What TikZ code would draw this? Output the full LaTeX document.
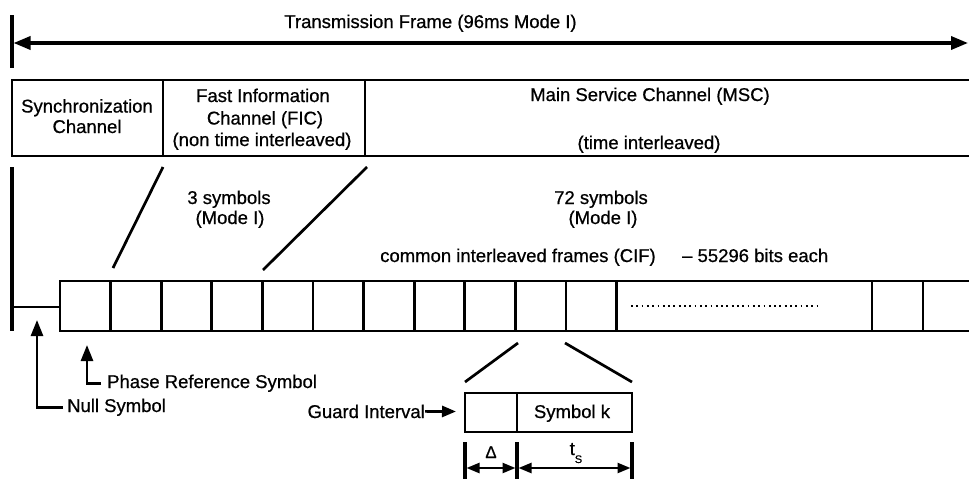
\documentclass[tikz,border=0pt]{standalone}
\usepackage{fontspec}
\setmainfont{Liberation Sans}[FakeBold=0.7]
\usetikzlibrary{arrows.meta}
\begin{document}
\begin{tikzpicture}[x=1pt,y=-1pt,
  lbl/.style={font=\fontsize{18.5}{21}\selectfont, inner sep=0pt, anchor=base},
  boxline/.style={line width=2.9pt},
  heavy/.style={line width=3.2pt},
  slant/.style={line width=2.7pt},
  bigtip/.style={-{Triangle[length=16pt,width=12pt]}},
  dimtip/.style={{Triangle[length=13pt,width=10pt]}-{Triangle[length=13pt,width=10pt]}},
]
\useasboundingbox (0,0) rectangle (969,479);
\clip (0,0) rectangle (969,479);

% ---- title and frame arrow
\node[lbl] (title) at (430.5,28) {Transmission Frame (96ms Mode I)};
\coordinate (barTop) at (12,15);
\coordinate (barBot) at (12,68);
\coordinate (frameL) at (13.5,43);
\coordinate (frameR) at (968,43);
\draw[heavy] (barTop) -- (barBot);
\draw[line width=3.4pt, {Triangle[length=17pt,width=13pt]}-{Triangle[length=17pt,width=13pt]}] (frameL) -- (frameR);

% ---- channel box
\draw[boxline] (980,80) -- (12,80) -- (12,156) -- (980,156);
\coordinate (d1t) at (163,80); \coordinate (d1b) at (163,156);
\coordinate (d2t) at (365,80); \coordinate (d2b) at (365,156);
\draw[boxline] (d1t) -- (d1b);
\draw[boxline] (d2t) -- (d2b);

\node[lbl] (sync1) at (87,112.5) {Synchronization};
\node[lbl] (sync2) at (87,133) {Channel};
\node[lbl] (fic1) at (263,102) {Fast Information};
\node[lbl] (fic2) at (265,124.5) {Channel (FIC)};
\node[lbl] (fic3) at (262,146) {(non time interleaved)};
\node[lbl] (msc1) at (650,101) {Main Service Channel (MSC)};
\node[lbl] (msc2) at (649,149) {(time interleaved)};

% ---- fan-out lines for FIC
\coordinate (fa1) at (163,167); \coordinate (fa2) at (113,268);
\coordinate (fb1) at (367,167); \coordinate (fb2) at (263,270);
\draw[slant] (fa1) -- (fa2);
\draw[slant] (fb1) -- (fb2);

\node[lbl] (s3a) at (229,204) {3 symbols};
\node[lbl] (s3b) at (230,224) {(Mode I)};
\node[lbl] (s72a) at (601,204) {72 symbols};
\node[lbl] (s72b) at (603,224) {(Mode I)};
\node[lbl] (cif) at (518,262) {common interleaved frames (CIF)};
\node[lbl, anchor=base west] (bits) at (682,262) {– 55296 bits each};

% ---- symbol row
\coordinate (lbarT) at (12,167);
\coordinate (lbarB) at (12,331);
\draw[heavy] (lbarT) -- (lbarB);
\coordinate (nullL) at (12,307);
\coordinate (nullR) at (60,307);
\draw[slant] (nullL) -- (nullR);
\draw[boxline] (980,281) -- (60,281) -- (60,331) -- (980,331);
\foreach \k in {1,...,11} {
  \draw[boxline] ({60+50.6*\k},281) -- ({60+50.6*\k},331);
}
\draw[boxline] (872,281) -- (872,331);
\draw[boxline] (923,281) -- (923,331);
\coordinate (dotsL) at (631,306);
\coordinate (dotsR) at (818,306);
\draw[line width=1.8pt, dash pattern=on 1.8pt off 3.5pt] (dotsL) -- (dotsR);

% ---- labels with arrows
\node[lbl, anchor=base west] (phase) at (107,388) {Phase Reference Symbol};
\node[lbl, anchor=base west] (null) at (67,412) {Null Symbol};
\coordinate (phaseTip) at (87,345);
\coordinate (nullTip) at (37,320);
\draw[slant, bigtip] ([xshift=-6pt]phase.west) -| (phaseTip);
\draw[slant, bigtip] ([xshift=-4pt]null.west) -| (nullTip);

% ---- symbol detail
\coordinate (za1) at (518,343); \coordinate (za2) at (465,382);
\coordinate (zb1) at (565,343); \coordinate (zb2) at (632,382);
\draw[slant] (za1) -- (za2);
\draw[slant] (zb1) -- (zb2);

\draw[boxline] (465,393) rectangle (632,432);
\draw[boxline] (517,393) -- (517,432);
\node[lbl] (symk) at (572,418) {Symbol k};
\node[lbl, anchor=base east] (guard) at (425,418) {Guard Interval};
\coordinate (guardTip) at (456,411.5);
\draw[slant, -{Triangle[length=14pt,width=11pt]}] (guard.east) -- (guardTip);

% ---- dimensions
\coordinate (m1t) at (465,442); \coordinate (m1b) at (465,485);
\coordinate (m2t) at (517,442); \coordinate (m2b) at (517,485);
\coordinate (m3t) at (632,442); \coordinate (m3b) at (632,485);
\draw[heavy] (m1t) -- (m1b);
\draw[heavy] (m2t) -- (m2b);
\draw[heavy] (m3t) -- (m3b);
\draw[line width=2.4pt, dimtip] (466.5,468) -- (515.5,468);
\draw[line width=2.4pt, dimtip] (518.5,468) -- (630.5,468);
\node[inner sep=0pt, anchor=base, font=\fontsize{17}{17}\selectfont] (delta) at (491,458) {Δ};
\node[lbl, anchor=base west] (ts) at (569.5,455) {t\raisebox{-8pt}{\fontsize{11}{11}\selectfont S}};
\end{tikzpicture}
\end{document}
